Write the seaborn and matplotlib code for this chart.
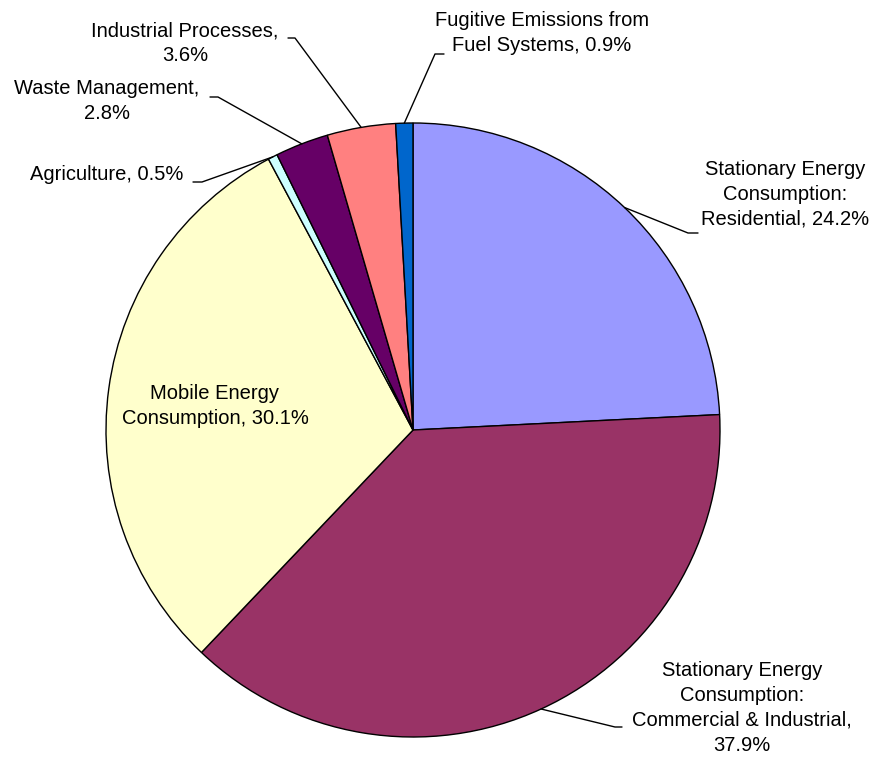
import numpy as np
import seaborn as sns
import matplotlib.pyplot as plt

sns.set_theme(style="white")
plt.rcParams["font.family"] = ["Liberation Sans", "DejaVu Sans"]

# emission shares, clockwise from 12 o'clock
sectors = [
    "Stationary Energy Consumption: Residential",
    "Stationary Energy Consumption: Commercial & Industrial",
    "Mobile Energy Consumption",
    "Agriculture",
    "Waste Management",
    "Industrial Processes",
    "Fugitive Emissions from Fuel Systems",
]
shares = [24.2, 37.9, 30.1, 0.5, 2.8, 3.6, 0.9]
label_fmt = [
    "Stationary Energy\nConsumption:\nResidential, {:.1f}%",
    "Stationary Energy\nConsumption:\nCommercial & Industrial,\n{:.1f}%",
    "Mobile Energy\nConsumption, {:.1f}%",
    "Agriculture, {:.1f}%",
    "Waste Management,\n{:.1f}%",
    "Industrial Processes,\n{:.1f}%",
    "Fugitive Emissions from\nFuel Systems, {:.1f}%",
]
colors = ["#9999FF", "#993366", "#FFFFCC", "#CCFFFF", "#660066", "#FF8080", "#0066CC"]

W, H = 882, 758
# layout in pixels from the top-left corner
cx, cy, radius = 413, 430, 307
text_pos = [(785, 194), (742, 708), (215, 406), (107, 175), (107, 101), (185, 43), (542, 33)]
elbows = [(688, 233), (615, 727), None, (202, 182), (218, 97), (295, 38), (435, 54)]
tails = [(698, 233), (622, 727), None, (193, 182), (210, 97), (288, 38), (444, 54)]

fig = plt.figure(figsize=(W / 100, H / 100), dpi=100)
ax = fig.add_axes([0, 0, 1, 1])

wedges, _ = ax.pie(
    shares,
    colors=colors,
    startangle=90,
    counterclock=False,
    center=(cx, H - cy),
    radius=radius,
    wedgeprops={"edgecolor": "black", "linewidth": 1.0},
)
ax.set_xlim(0, W)
ax.set_ylim(0, H)
ax.set_aspect("equal")
ax.axis("off")

for w, fmt, val, (tx, ty), el, tl in zip(wedges, label_fmt, shares, text_pos, elbows, tails):
    ax.text(tx, H - ty, fmt.format(val), ha="center", va="center",
            fontsize=14.5, color="black", linespacing=1.38)
    if el is None:
        continue
    mid = np.deg2rad((w.theta1 + w.theta2) / 2)
    ex = cx + radius * np.cos(mid)
    ey = (H - cy) + radius * np.sin(mid)
    ax.plot([ex, el[0], tl[0]], [ey, H - el[1], H - tl[1]], color="black", lw=1.0)

fig.savefig("out.png", dpi=100, facecolor="white")
